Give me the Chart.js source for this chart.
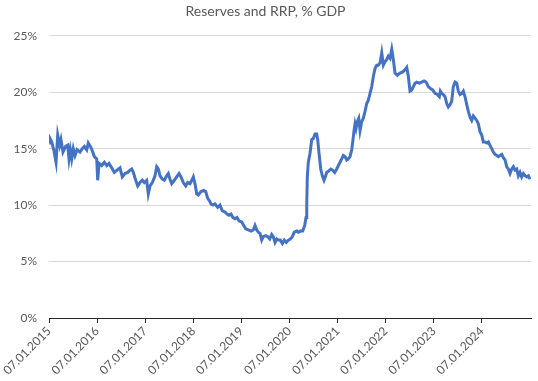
<!DOCTYPE html>
<html>
<head>
<meta charset="utf-8">
<script src="https://cdn.jsdelivr.net/npm/chart.js@4"></script>
<style>
  html, body { margin: 0; padding: 0; background: #fff; }
  #wrap { width: 538px; height: 381px; }
</style>
</head>
<body>
<div id="wrap"><canvas id="grafico"></canvas></div>
<script>
// time in decimal years
const years = [
  2015.006, 2015.02, 2015.056, 2015.098, 2015.146, 2015.181, 2015.222, 2015.249, 2015.291, 2015.347,
  2015.389, 2015.416, 2015.443, 2015.472, 2015.505, 2015.541, 2015.582, 2015.644, 2015.692, 2015.734,
  2015.784, 2015.817, 2015.873, 2015.909, 2015.942, 2015.992, 2016.012, 2016.040, 2016.096, 2016.150,
  2016.200, 2016.247, 2016.304, 2016.358, 2016.414, 2016.476, 2016.524, 2016.580, 2016.636, 2016.684,
  2016.719, 2016.753, 2016.788, 2016.844, 2016.892, 2016.940, 2016.981, 2017.031, 2017.064, 2017.100,
  2017.148, 2017.204, 2017.239, 2017.272, 2017.308, 2017.356, 2017.397, 2017.447, 2017.480, 2017.516,
  2017.551, 2017.605, 2017.655, 2017.703, 2017.744, 2017.792, 2017.842, 2017.884, 2017.931, 2017.967,
  2018.000, 2018.035, 2018.071, 2018.104, 2018.160, 2018.216, 2018.258, 2018.299, 2018.347, 2018.368,
  2018.410, 2018.451, 2018.507, 2018.555, 2018.603, 2018.659, 2018.701, 2018.742, 2018.784, 2018.825,
  2018.867, 2018.909, 2018.950, 2019.006, 2019.048, 2019.089, 2019.143, 2019.200, 2019.247, 2019.283,
  2019.318, 2019.351, 2019.387, 2019.422, 2019.455, 2019.505, 2019.547, 2019.588, 2019.630, 2019.663,
  2019.699, 2019.734, 2019.767, 2019.809, 2019.850, 2019.892, 2019.933, 2019.975, 2020.017, 2020.058,
  2020.100, 2020.150, 2020.183, 2020.225, 2020.274, 2020.316, 2020.343, 2020.358, 2020.370, 2020.391,
  2020.426, 2020.462, 2020.495, 2020.530, 2020.565, 2020.586, 2020.613, 2020.649, 2020.682, 2020.717,
  2020.744, 2020.773, 2020.807, 2020.857, 2020.898, 2020.940, 2020.981, 2021.015, 2021.050, 2021.085,
  2021.119, 2021.154, 2021.189, 2021.222, 2021.258, 2021.293, 2021.314, 2021.341, 2021.362, 2021.383,
  2021.410, 2021.439, 2021.466, 2021.501, 2021.534, 2021.570, 2021.605, 2021.638, 2021.674, 2021.709,
  2021.742, 2021.778, 2021.813, 2021.846, 2021.881, 2021.917, 2021.950, 2021.985, 2022.021, 2022.054,
  2022.089, 2022.125, 2022.158, 2022.193, 2022.241, 2022.297, 2022.353, 2022.401, 2022.437, 2022.470,
  2022.505, 2022.541, 2022.574, 2022.609, 2022.644, 2022.699, 2022.748, 2022.796, 2022.838, 2022.886,
  2022.936, 2022.977, 2023.025, 2023.073, 2023.114, 2023.135, 2023.163, 2023.198, 2023.233, 2023.268,
  2023.301, 2023.337, 2023.372, 2023.405, 2023.441, 2023.476, 2023.509, 2023.545, 2023.580, 2023.613,
  2023.649, 2023.684, 2023.717, 2023.753, 2023.788, 2023.821, 2023.857, 2023.892, 2023.925, 2023.960,
  2023.996, 2024.029, 2024.065, 2024.100, 2024.133, 2024.168, 2024.204, 2024.237, 2024.272, 2024.308,
  2024.341, 2024.376, 2024.412, 2024.445, 2024.480, 2024.516, 2024.549, 2024.584, 2024.620, 2024.653,
  2024.688, 2024.723, 2024.757, 2024.792, 2024.827, 2024.861, 2024.896, 2024.931, 2024.965, 2025.000
];

// Reserves + RRP as % of GDP
const reservas = [
  15.5, 15.9, 15.6, 14.9, 13.8, 16.2, 15.3, 15.8, 14.7, 15.2,
  15.3, 14.1, 14.9, 14.1, 15.0, 14.4, 14.9, 14.7, 15.0, 15.2,
  14.9, 15.5, 15.1, 14.7, 14.3, 14.1, 12.2, 13.7, 13.5, 13.8,
  13.5, 13.7, 13.3, 12.9, 13.1, 13.3, 12.5, 12.8, 12.9, 13.1,
  13.2, 12.9, 12.4, 11.7, 12.0, 12.2, 12.0, 12.2, 11.0, 11.7,
  12.0, 12.6, 13.4, 13.2, 12.6, 12.3, 12.2, 12.6, 12.8, 12.3,
  11.9, 12.2, 12.5, 12.8, 12.5, 12.0, 11.7, 12.0, 11.9, 12.2,
  12.5, 11.9, 11.0, 10.9, 11.2, 11.3, 11.2, 10.6, 10.3, 10.1,
  10.0, 10.1, 9.8, 10.0, 9.5, 9.4, 9.2, 9.1, 9.2, 8.9,
  8.8, 8.9, 8.6, 8.5, 8.2, 7.9, 7.8, 7.7, 7.8, 8.2,
  7.8, 7.6, 7.5, 6.9, 7.2, 7.3, 7.2, 7.0, 7.4, 7.2,
  6.7, 7.0, 6.9, 6.9, 6.6, 6.9, 6.7, 6.9, 7.0, 7.2,
  7.6, 7.7, 7.6, 7.7, 7.7, 8.2, 8.9, 10.1, 12.5, 13.8,
  14.6, 15.8, 15.9, 16.3, 16.3, 15.8, 14.6, 13.2, 12.6, 12.2,
  12.5, 12.9, 13.0, 13.2, 13.1, 12.9, 13.2, 13.5, 13.8, 14.1,
  14.4, 14.3, 14.0, 14.1, 14.3, 14.9, 15.6, 16.6, 17.2, 16.8,
  17.4, 17.7, 16.6, 17.4, 17.7, 18.3, 19.0, 19.3, 19.9, 20.5,
  21.4, 22.1, 22.4, 22.4, 22.6, 23.5, 22.4, 22.7, 22.9, 23.2,
  23.0, 23.8, 22.9, 21.7, 21.5, 21.7, 21.8, 22.0, 22.2, 21.4,
  20.1, 20.2, 20.5, 20.8, 20.9, 20.8, 20.9, 21.0, 20.9, 20.5,
  20.3, 20.2, 19.9, 19.8, 19.6, 20.1, 19.9, 19.8, 19.6, 19.0,
  18.7, 18.9, 19.2, 20.5, 20.9, 20.8, 20.1, 19.8, 19.9, 20.1,
  19.6, 18.9, 18.3, 17.8, 17.5, 17.9, 17.7, 17.5, 17.2, 16.5,
  16.2, 15.6, 15.6, 15.5, 15.6, 15.3, 15.0, 14.7, 14.5, 14.4,
  14.3, 14.4, 14.5, 14.2, 14.0, 13.4, 13.2, 12.8, 13.2, 13.4,
  13.1, 13.2, 12.6, 12.9, 12.5, 12.8, 12.6, 12.5, 12.6, 12.3
];

const anioInicio = 2015;
const anioFin = 2025.02;
const anioUltimaEtiqueta = 2024;
const ejeY = { min: 0, max: 25, paso: 5 };
const titulo = 'Reserves and RRP, % GDP';

const puntos = years.map(function (t, i) {
  return { x: t, y: reservas[i] };
});

const gris = '#595959';
const fuente = 'Lato, "Open Sans", sans-serif';

const ctx = document.getElementById('grafico');

new Chart(ctx, {
  type: 'line',
  data: {
    datasets: [{
      data: puntos,
      borderColor: '#4472C4',
      borderWidth: 3,
      pointRadius: 0,
      tension: 0,
      fill: false
    }]
  },
  options: {
    responsive: true,
    maintainAspectRatio: false,
    animation: false,
    layout: { padding: { left: 0, right: 7, top: 0, bottom: 0 } },
    plugins: {
      legend: { display: false },
      tooltip: { enabled: false },
      title: {
        display: true,
        text: titulo,
        color: gris,
        font: { family: fuente, size: 14, weight: 'normal' },
        padding: { top: 3, bottom: 16 }
      }
    },
    scales: {
      x: {
        type: 'linear',
        min: anioInicio,
        max: anioFin,
        afterBuildTicks: function (axis) {
          const ticks = [];
          for (let a = anioInicio; a <= anioUltimaEtiqueta; a++) ticks.push({ value: a });
          axis.ticks = ticks;
        },
        afterFit: function (scale) { scale.height = 63; },
        grid: {
          drawOnChartArea: false,
          drawTicks: true,
          tickLength: 5,
          color: '#262626'
        },
        border: { display: true, color: '#262626', width: 1 },
        ticks: {
          autoSkip: false,
          minRotation: 45,
          maxRotation: 45,
          padding: 1,
          color: gris,
          font: { family: fuente, size: 12 },
          callback: function (v) { return '07.01.' + v; }
        }
      },
      y: {
        min: ejeY.min,
        max: ejeY.max,
        afterFit: function (scale) { scale.width = 49; },
        grid: { color: '#d9d9d9', drawTicks: false, lineWidth: 1 },
        border: { display: false },
        ticks: {
          stepSize: ejeY.paso,
          padding: 12,
          color: gris,
          font: { family: fuente, size: 12 },
          callback: function (v) { return v + '%'; }
        }
      }
    }
  }
});
</script>
</body>
</html>
